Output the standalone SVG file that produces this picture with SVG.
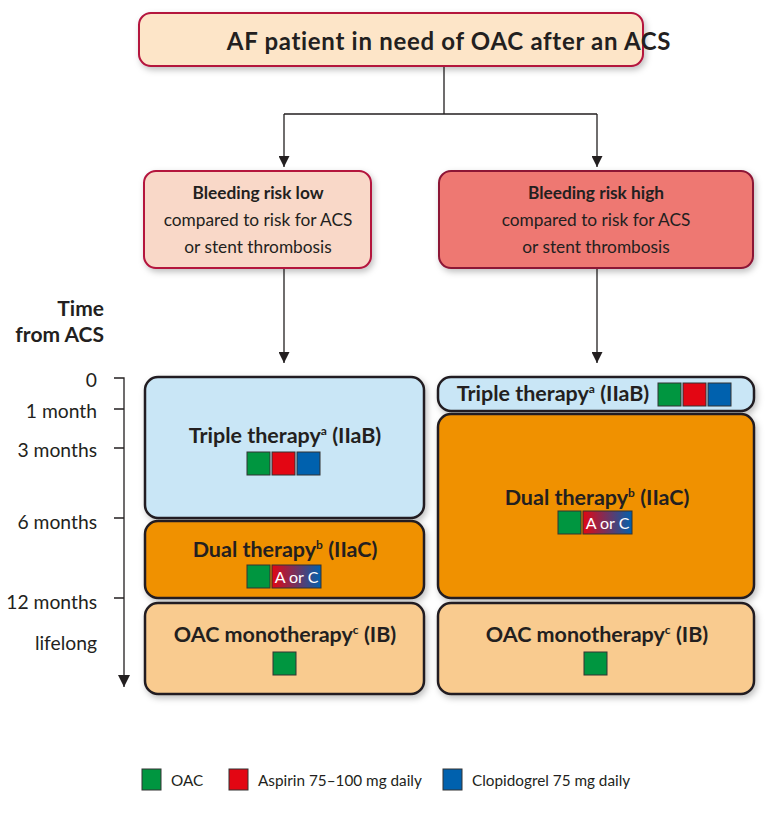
<svg xmlns="http://www.w3.org/2000/svg" width="768" height="818" viewBox="0 0 768 818">
<style>
text{font-family:Lato,"Open Sans","Liberation Sans",sans-serif;fill:#231f20}
.b{font-weight:bold}
.t{font-size:21.5px;text-anchor:middle}
.r{font-size:17.3px;text-anchor:middle}
.tm{font-size:21px;text-anchor:end;font-weight:bold}
.ax{font-size:19.3px;text-anchor:end}
.lg{font-size:15.3px}
.phase{stroke:#231f20;stroke-width:2.5}
.sq{stroke:#333;stroke-width:1}
.g{fill:#009640}.rd{fill:#e30613}.bl{fill:#0061ae}
.ln{fill:none;stroke:#231f20;stroke-width:1.3}
.ac{font-size:16px;fill:#fff;text-anchor:middle}
</style>
<defs>
<filter id="sh" x="-10%" y="-10%" width="125%" height="130%">
<feDropShadow dx="2" dy="3" stdDeviation="3" flood-color="#000" flood-opacity="0.25"/>
</filter>
<linearGradient id="aoc" x1="0" x2="1" y1="0" y2="0">
<stop offset="0" stop-color="#e30613"/>
<stop offset="1" stop-color="#0061ae"/>
</linearGradient>
<marker id="ah" viewBox="0 0 10 10" refX="10" refY="5" markerWidth="11" markerHeight="11" markerUnits="userSpaceOnUse" orient="auto">
<path d="M0,0 L10,5 L0,10 z" fill="#231f20"/>
</marker>
<marker id="ah2" viewBox="0 0 12 12" refX="12" refY="6" markerWidth="12" markerHeight="12" markerUnits="userSpaceOnUse" orient="auto">
<path d="M0,0 L12,6 L0,12 z" fill="#231f20"/>
</marker>
</defs>
<rect width="768" height="818" fill="#fff"/>

<g id="connectors">
<path class="ln" d="M444,66 V114 M284,114 H597" />
<path class="ln" d="M284,114 V167" marker-end="url(#ah)"/>
<path class="ln" d="M597,114 V167" marker-end="url(#ah)"/>
<path class="ln" d="M284,268 V363" marker-end="url(#ah)"/>
<path class="ln" d="M597,268 V363" marker-end="url(#ah)"/>
</g>

<g id="top">
<rect x="139" y="13" width="504" height="53" rx="12" fill="#fde5c8" stroke="#b4123d" stroke-width="2" filter="url(#sh)"/>
<text x="449" y="50" class="b" font-size="24" letter-spacing="0.7" text-anchor="middle">AF patient in need of OAC after an ACS</text>
</g>

<g id="low">
<rect x="144" y="171" width="227" height="97" rx="12" fill="#f9d8c8" stroke="#b4123d" stroke-width="2" filter="url(#sh)"/>
<text x="258" y="199" class="r b">Bleeding risk low</text>
<text x="258" y="226" class="r">compared to risk for ACS</text>
<text x="258" y="253" class="r">or stent thrombosis</text>
</g>

<g id="high">
<rect x="439" y="171" width="314" height="97" rx="12" fill="#ee7872" stroke="#8c1535" stroke-width="2" filter="url(#sh)"/>
<text x="596" y="199" class="r b">Bleeding risk high</text>
<text x="596" y="226" class="r">compared to risk for ACS</text>
<text x="596" y="253" class="r">or stent thrombosis</text>
</g>

<g id="axis">
<text x="104" y="316" class="tm">Time</text>
<text x="104" y="342" class="tm">from ACS</text>
<path class="ln" d="M114,378 H124 V687" marker-end="url(#ah2)"/>
<path class="ln" d="M114,409 H124 M114,448 H124 M114,518 H124 M114,598 H124"/>
<text x="97" y="387" class="ax">0</text>
<text x="97" y="418" class="ax">1 month</text>
<text x="97" y="457" class="ax">3 months</text>
<text x="97" y="529" class="ax">6 months</text>
<text x="97" y="609" class="ax">12 months</text>
<text x="97" y="650" class="ax">lifelong</text>
</g>

<g id="left-triple">
<rect x="145" y="377" width="279" height="141" rx="13" fill="#c9e6f6" class="phase" filter="url(#sh)"/>
<text x="285" y="443" class="t b">Triple therapy<tspan font-size="12" dy="-8">a</tspan><tspan dy="8"> (IIaB)</tspan></text>
<rect x="247" y="452" width="23" height="23" class="sq g"/>
<rect x="272" y="452" width="23" height="23" class="sq rd"/>
<rect x="297" y="452" width="23" height="23" class="sq bl"/>
</g>

<g id="left-dual">
<rect x="145" y="521" width="279" height="77" rx="13" fill="#f09100" class="phase" filter="url(#sh)"/>
<text x="285" y="557" class="t b">Dual therapy<tspan font-size="12" dy="-8">b</tspan><tspan dy="8"> (IIaC)</tspan></text>
<rect x="247" y="565" width="23" height="23" class="sq g"/>
<rect x="272" y="565" width="49" height="23" class="sq" fill="url(#aoc)"/>
<text x="296.5" y="583" class="ac">A or C</text>
</g>

<g id="left-oac">
<rect x="145" y="603" width="279" height="91" rx="13" fill="#f9cb8f" class="phase" filter="url(#sh)"/>
<text x="285" y="642" class="t b">OAC monotherapy<tspan font-size="12" dy="-8">c</tspan><tspan dy="8"> (IB)</tspan></text>
<rect x="273" y="652" width="23" height="23" class="sq g"/>
</g>

<g id="right-triple">
<rect x="438" y="377" width="316" height="34" rx="13" fill="#c9e6f6" class="phase" filter="url(#sh)"/>
<text x="553" y="401" class="t b">Triple therapy<tspan font-size="12" dy="-8">a</tspan><tspan dy="8"> (IIaB)</tspan></text>
<rect x="658" y="383" width="23" height="23" class="sq g"/>
<rect x="683" y="383" width="23" height="23" class="sq rd"/>
<rect x="708" y="383" width="23" height="23" class="sq bl"/>
</g>

<g id="right-dual">
<rect x="438" y="414" width="316" height="184" rx="13" fill="#f09100" class="phase" filter="url(#sh)"/>
<text x="597" y="505" class="t b">Dual therapy<tspan font-size="12" dy="-8">b</tspan><tspan dy="8"> (IIaC)</tspan></text>
<rect x="558" y="511" width="23" height="23" class="sq g"/>
<rect x="583" y="511" width="49" height="23" class="sq" fill="url(#aoc)"/>
<text x="607.5" y="529" class="ac">A or C</text>
</g>

<g id="right-oac">
<rect x="438" y="603" width="316" height="91" rx="13" fill="#f9cb8f" class="phase" filter="url(#sh)"/>
<text x="597" y="642" class="t b">OAC monotherapy<tspan font-size="12" dy="-8">c</tspan><tspan dy="8"> (IB)</tspan></text>
<rect x="584" y="652" width="23" height="23" class="sq g"/>
</g>

<g id="legend">
<rect x="142" y="769" width="19" height="21" class="sq g"/>
<text x="171" y="786" class="lg">OAC</text>
<rect x="229" y="769" width="19" height="21" class="sq rd"/>
<text x="258" y="786" class="lg">Aspirin 75–100 mg daily</text>
<rect x="443" y="769" width="19" height="21" class="sq bl"/>
<text x="472" y="786" class="lg">Clopidogrel 75 mg daily</text>
</g>
</svg>
